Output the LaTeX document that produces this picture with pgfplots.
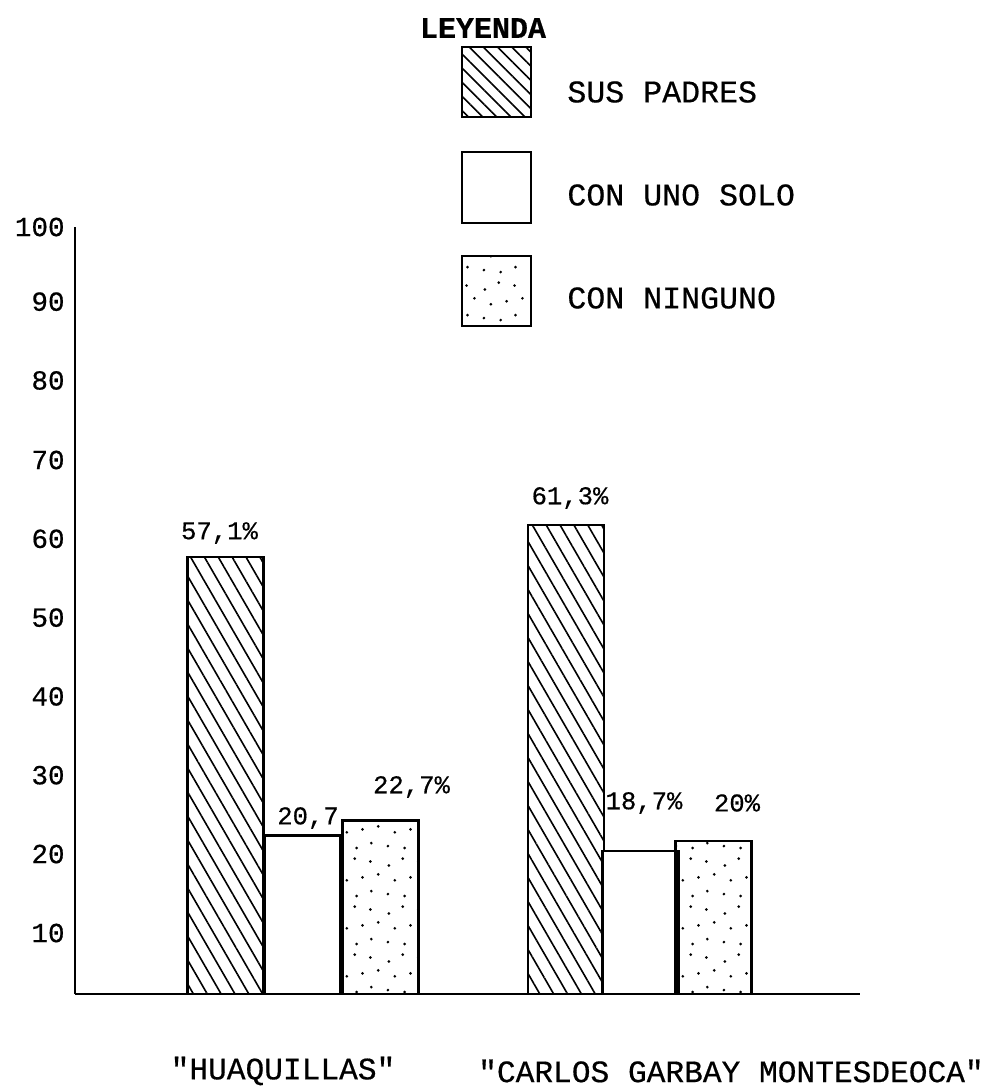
\documentclass[border=0pt]{standalone}
\usepackage{fontspec}
\usepackage{pgfplots}
\pgfplotsset{compat=1.18}
\usetikzlibrary{patterns,patterns.meta}
\newfontfamily\tw[FakeBold=0.5]{Liberation Mono}
\newcommand{\twf}[1]{\tw\fontsize{#1}{#1}\selectfont}

\pgfdeclarepatternformonly{sparsedots}{\pgfqpoint{0pt}{0pt}}{\pgfqpoint{24pt}{24pt}}{\pgfqpoint{24pt}{24pt}}{%
  \pgfpathcircle{\pgfqpoint{2pt}{2.5pt}}{0.75pt}%
  \pgfpathcircle{\pgfqpoint{10.5pt}{1.5pt}}{0.75pt}%
  \pgfpathcircle{\pgfqpoint{18pt}{4pt}}{0.75pt}%
  \pgfpathcircle{\pgfqpoint{5.5pt}{9.5pt}}{0.75pt}%
  \pgfpathcircle{\pgfqpoint{13.5pt}{11pt}}{0.75pt}%
  \pgfpathcircle{\pgfqpoint{21.5pt}{12.5pt}}{0.75pt}%
  \pgfpathcircle{\pgfqpoint{2.5pt}{17pt}}{0.75pt}%
  \pgfpathcircle{\pgfqpoint{9.5pt}{20.5pt}}{0.75pt}%
  \pgfpathcircle{\pgfqpoint{17.5pt}{19pt}}{0.75pt}%
  \pgfusepath{fill}}

\begin{document}
\begin{tikzpicture}
\useasboundingbox (-37.5pt,-48.5pt) rectangle (459.5pt,497pt);
\begin{axis}[
  at={(0pt,0pt)}, anchor=south west,
  scale only axis, width=392.5pt, height=383.5pt,
  xmin=0, xmax=785, ymin=0, ymax=100.26,
  axis lines*=left,
  axis line style={line width=1.1pt},
  xtick=\empty,
  ytick={7.97,18.29,28.6,38.9,49.2,59.5,69.8,80.2,90.5,100.26},
  yticklabels={10,20,30,40,50,60,70,80,90,100},
  major tick length=0pt,
  yticklabel style={font=\twf{13.8pt}, anchor=east, inner sep=0pt, xshift=-5pt},
  clip=false,
]
\addplot[ybar, bar shift=0pt, bar width=76, draw=black, line width=1.3pt,
  pattern={Lines[angle=-60,distance=6pt,line width=0.8pt]}]
  coordinates {(150.5,57.1) (491,61.3)};
\addplot[ybar, bar shift=0pt, bar width=76, draw=black, line width=1.3pt, fill=white]
  coordinates {(227.5,20.7) (565.5,18.7)};
\addplot[ybar, bar shift=0pt, bar width=76, draw=black, line width=1.3pt, pattern=sparsedots]
  coordinates {(305.5,22.7) (638.5,20)};

\node[font=\twf{12.8pt}, inner sep=0pt] at (axis cs:144.5,60.26) {57,1\%};
\node[font=\twf{12.8pt}, inner sep=0pt] at (axis cs:233,23.0) {20,7};
\node[font=\twf{12.8pt}, inner sep=0pt] at (axis cs:336.5,27.06) {22,7\%};
\node[font=\twf{12.8pt}, inner sep=0pt] at (axis cs:495,64.84) {61,3\%};
\node[font=\twf{12.8pt}, inner sep=0pt] at (axis cs:569,24.97) {18,7\%};
\node[font=\twf{12.8pt}, inner sep=0pt] at (axis cs:662,24.97) {20\%};
\end{axis}

% legend
\node[font=\twf{15pt}\bfseries, inner sep=0pt] at (204pt,483pt) {LEYENDA};
\draw[line width=1.3pt, pattern={Lines[angle=-45,distance=5pt,line width=0.8pt]}]
  (193.5pt,438.5pt) rectangle (228pt,473.5pt);
\draw[line width=1.3pt] (193.5pt,385.5pt) rectangle (228pt,421pt);
\draw[line width=1.3pt, pattern=sparsedots] (193.5pt,334pt) rectangle (228pt,369pt);
\node[anchor=west, inner sep=0pt, font=\twf{15.8pt}] at (246pt,451pt) {SUS PADRES};
\node[anchor=west, inner sep=0pt, font=\twf{15.8pt}] at (246pt,399.5pt) {CON UNO SOLO};
\node[anchor=west, inner sep=0pt, font=\twf{15.8pt}] at (246pt,348pt) {CON NINGUNO};

% category labels
\node[font=\twf{15.6pt}, inner sep=0pt] at (104pt,-38.5pt) {"HUAQUILLAS"};
\node[font=\twf{15.6pt}, inner sep=0pt] at (328pt,-38.5pt) {"CARLOS GARBAY MONTESDEOCA"};
\end{tikzpicture}
\end{document}
